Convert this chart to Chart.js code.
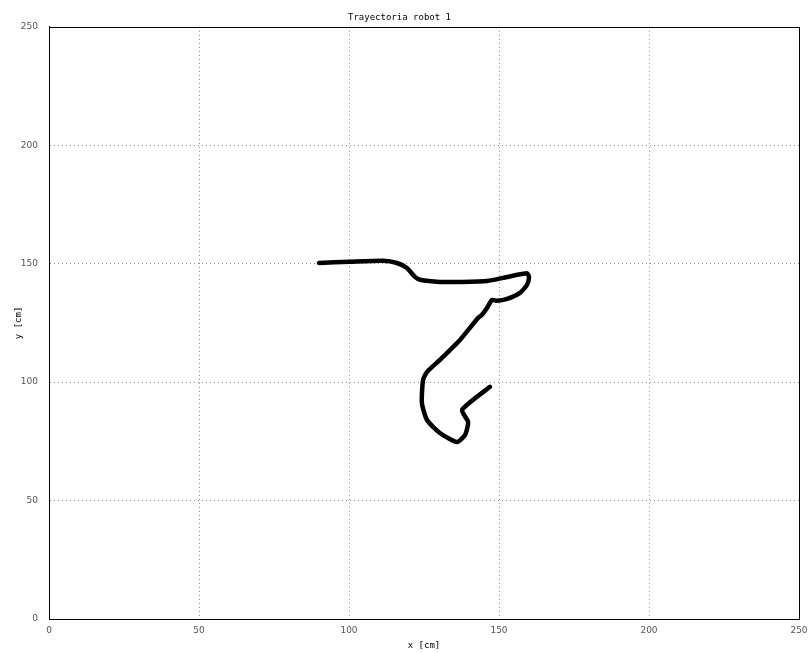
<!DOCTYPE html>
<html>
<head>
<meta charset="utf-8">
<script src="https://cdn.jsdelivr.net/npm/chart.js@4/dist/chart.umd.min.js"></script>
<style>
  html, body { margin: 0; padding: 0; background: #fff; }
  #wrap { width: 808px; height: 653px; }
</style>
</head>
<body>
<div id="wrap"><canvas id="c" width="808" height="653"></canvas></div>
<script>
// Trayectoria robot 1 — path
const titleText = 'Trayectoria robot 1';
const xTicks = [0, 50, 100, 150, 200, 250];
const yTicks = [0, 50, 100, 150, 200, 250];

const pathX = [90, 100.3, 111.3, 116, 119.3, 122, 123.7, 130.3, 137, 146, 152.7, 159.3, 160, 159.3, 157, 152.7, 149.3, 147.7, 146, 144.3, 143, 137, 130.3, 126, 124.7, 124.3, 126, 130.3, 136, 138.7, 139.7, 137.7, 147];
const pathY = [150.3, 150.8, 151.2, 150.3, 148.2, 144.4, 143.2, 142.3, 142.3, 142.7, 144.4, 146, 144.4, 141, 137.7, 135.1, 134.3, 134.7, 131.3, 128.4, 127.1, 117.8, 109.4, 104.3, 100.9, 91.2, 84, 78.5, 74.7, 77.7, 83.2, 88.3, 98];

const points = pathX.map((x, i) => ({ x, y: pathY[i] }));

const frame = {
  id: 'frame',
  afterDraw(chart) {
    const a = chart.chartArea, ctx = chart.ctx;
    ctx.save();
    ctx.strokeStyle = '#000';
    ctx.lineWidth = 1;
    ctx.strokeRect(Math.round(a.left) + 0.5, Math.round(a.top) + 0.5, Math.round(a.right - a.left), Math.round(a.bottom - a.top));
    ctx.restore();
  }
};

const gridStyle = {
  color: ctx => (ctx.tick.value === 0 || ctx.tick.value === 250) ? 'rgba(0,0,0,0)' : '#888',
  lineWidth: 1,
  drawTicks: false
};

new Chart(document.getElementById('c'), {
  type: 'scatter',
  data: {
    datasets: [{
      data: points,
      showLine: true,
      borderColor: '#000',
      backgroundColor: '#000',
      borderWidth: 4.5,
      pointRadius: 0,
      tension: 0.2,
      borderCapStyle: 'round',
      borderJoinStyle: 'round'
    }]
  },
  options: {
    responsive: false,
    animation: false,
    layout: { padding: { left: 0, right: 9, top: 0, bottom: 0 } },
    plugins: {
      legend: { display: false },
      tooltip: { enabled: false },
      title: {
        display: true,
        text: titleText,
        color: '#000',
        font: { family: 'DejaVu Sans Mono', size: 9, weight: 'normal' },
        padding: { top: 12, bottom: 4 }
      }
    },
    scales: {
      x: {
        type: 'linear',
        min: 0, max: 250,
        afterBuildTicks: s => { s.ticks = xTicks.map(v => ({ value: v })); },
        afterFit: s => { s.height = 34; s.paddingLeft = 0; s.paddingRight = 0; },
        grid: gridStyle,
        border: { color: '#000', dash: [1, 3], display: true },
        ticks: { color: '#555', padding: 6, font: { family: 'DejaVu Sans', size: 9 } },
        title: { display: true, text: 'x [cm]', color: '#000', font: { family: 'DejaVu Sans Mono', size: 9 }, padding: { top: 0, bottom: 2 } }
      },
      y: {
        type: 'linear',
        min: 0, max: 250,
        afterBuildTicks: s => { s.ticks = yTicks.map(v => ({ value: v })); },
        afterFit: s => { s.width = 49; s.paddingTop = 0; s.paddingBottom = 0; },
        grid: gridStyle,
        border: { color: '#000', dash: [1, 3], display: true },
        ticks: { color: '#555', padding: 11, font: { family: 'DejaVu Sans', size: 9 } },
        title: { display: true, text: 'y [cm]', color: '#000', font: { family: 'DejaVu Sans Mono', size: 9 }, padding: { top: 13, bottom: 0 } }
      }
    }
  },
  plugins: [frame]
});
</script>
</body>
</html>
